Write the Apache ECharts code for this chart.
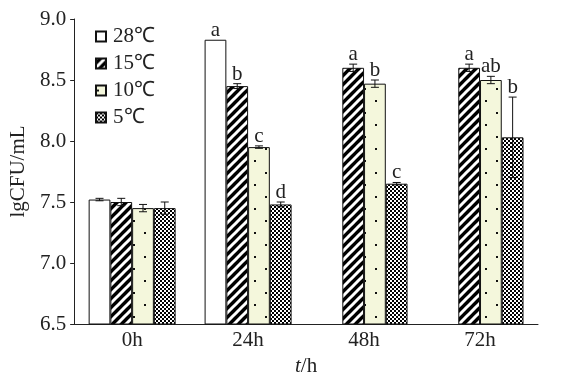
<!DOCTYPE html>
<html>
<head>
<meta charset="utf-8">
<script src="https://cdn.jsdelivr.net/npm/echarts@6/dist/echarts.min.js"></script>
<style>html,body{margin:0;padding:0;background:#fff}#c{width:568px;height:384px}</style>
</head>
<body>
<div id="c"></div>
<script>
var categories = ['0h', '24h', '48h', '72h'];
var seriesNames = ['28\u2103', '15\u2103', '10\u2103', '5\u2103'];
var v28 = [7.52, 8.83, null, null];
var v15 = [7.50, 8.45, 8.60, 8.60];
var v10 = [7.45, 7.95, 8.47, 8.50];
var v5  = [7.45, 7.48, 7.65, 8.03];
var e28 = [0.01, 0.0, null, null];
var e15 = [0.03, 0.02, 0.03, 0.03];
var e10 = [0.03, 0.01, 0.03, 0.03];
var e5  = [0.05, 0.02, 0.01, 0.33];
var l28 = ['', 'a', '', ''];
var l15 = ['', 'b', 'a', 'a'];
var l10 = ['', 'c', 'b', 'ab'];
var l5  = ['', 'd', 'c', 'b'];
var yTicks = [6.5, 7.0, 7.5, 8.0, 8.5, 9.0];

function makeCanvas(w, h, draw) {
  var c = document.createElement('canvas');
  c.width = w; c.height = h;
  draw(c.getContext('2d'));
  return c;
}
var stripe = makeCanvas(9, 9, function (g) {
  g.fillStyle = '#000'; g.fillRect(0, 0, 9, 9);
  g.strokeStyle = '#fff'; g.lineWidth = 3;
  for (var k = -1; k <= 1; k++) {
    g.beginPath(); g.moveTo(-2 + k * 9, 11); g.lineTo(11 + k * 9, -2); g.stroke();
  }
});
var dots = makeCanvas(22, 24, function (g) {
  g.fillStyle = '#f4f7dc'; g.fillRect(0, 0, 22, 24);
  g.fillStyle = '#111';
  g.fillRect(1, 4, 2, 2);
  g.fillRect(12, 16, 2, 2);
});
var checker = makeCanvas(4, 4, function (g) {
  g.fillStyle = '#fff'; g.fillRect(0, 0, 4, 4);
  g.fillStyle = '#000'; g.fillRect(0, 0, 2, 2); g.fillRect(2, 2, 2, 2);
});

var fills = ['#ffffff', {image: stripe, repeat: 'repeat'}, {image: dots, repeat: 'repeat'}, {image: checker, repeat: 'repeat'}];
var values = [v28, v15, v10, v5];
var errs = [e28, e15, e10, e5];
var letters = [l28, l15, l10, l5];
var FONT = '"Liberation Serif","Times New Roman",serif';
var FS = 21;
var GAP = 0.25;

var series = [];
values.forEach(function (vals, i) {
  series.push({
    name: seriesNames[i], type: 'bar', data: vals,
    barGap: '0%', barCategoryGap: (GAP * 100) + '%',
    itemStyle: {color: fills[i], borderColor: '#111', borderWidth: 1},
    emphasis: {disabled: true}, animation: false
  });
});
values.forEach(function (vals, i) {
  var data = [];
  vals.forEach(function (v, j) { if (v != null) data.push([j, v, errs[i][j], letters[i][j]]); });
  series.push({
    type: 'custom', silent: true, animation: false, z: 5,
    encode: {x: 0, y: 1},
    data: data,
    renderItem: function (params, api) {
      var j = api.value(0), v = api.value(1), e = api.value(2);
      var lt = data[params.dataIndex][3];
      var band = api.size([1, 0])[0];
      var bw = band * (1 - GAP) / 4;
      var base = api.coord([j, v]);
      var x = base[0] + (i - 1.5) * bw;
      var yTop = api.coord([j, v + e])[1];
      var yBot = api.coord([j, v - e])[1];
      var cap = 4;
      var ch = [];
      if (e > 0) {
        ch.push({type: 'line', shape: {x1: x, y1: yTop, x2: x, y2: yBot}, style: {stroke: '#111', lineWidth: 1}});
        ch.push({type: 'line', shape: {x1: x - cap, y1: yTop, x2: x + cap, y2: yTop}, style: {stroke: '#111', lineWidth: 1}});
        ch.push({type: 'line', shape: {x1: x - cap, y1: yBot, x2: x + cap, y2: yBot}, style: {stroke: '#111', lineWidth: 1}});
      }
      if (lt) {
        ch.push({type: 'text', style: {text: lt, x: x, y: yTop + 1, align: 'center', verticalAlign: 'bottom', font: FS + 'px ' + FONT, fill: '#222'}});
      }
      return {type: 'group', children: ch};
    }
  });
});

var chart = echarts.init(document.getElementById('c'), null, {renderer: 'canvas'});
chart.setOption({
  backgroundColor: '#fff',
  animation: false,
  textStyle: {fontFamily: FONT, color: '#222'},
  grid: {left: 72, right: 30, top: 19, bottom: 60},
  legend: {
    orient: 'vertical', left: 95, top: 26, padding: 0,
    itemWidth: 10, itemHeight: 10, itemGap: 6,
    icon: 'rect',
    data: seriesNames,
    textStyle: {fontFamily: FONT, fontSize: FS, color: '#222', padding: [0, 0, 0, 2]}
  },
  xAxis: {
    type: 'category', data: categories,
    name: '{i|t}/h', nameLocation: 'middle', nameGap: 24,
    nameTextStyle: {fontFamily: FONT, fontSize: FS, color: '#222', rich: {i: {fontStyle: 'italic', fontFamily: FONT, fontSize: FS, color: '#222'}}},
    axisLine: {lineStyle: {color: '#222', width: 1}},
    axisTick: {inside: true, length: 5, lineStyle: {color: '#222'}},
    axisLabel: {fontFamily: FONT, fontSize: FS, color: '#222', margin: 6},
    splitLine: {show: false}
  },
  yAxis: {
    type: 'value', min: 6.5, max: 9.0, interval: 0.5,
    name: 'lgCFU/mL', nameLocation: 'middle', nameGap: 40, nameRotate: 90,
    nameTextStyle: {fontFamily: FONT, fontSize: FS, color: '#222'},
    axisLine: {show: true, lineStyle: {color: '#222', width: 1}},
    axisTick: {show: true, length: 4, lineStyle: {color: '#222'}},
    axisLabel: {fontFamily: FONT, fontSize: FS, color: '#222', margin: 8,
      formatter: function (v) { return yTicks.indexOf(v) >= 0 ? v.toFixed(1) : ''; }},
    splitLine: {show: false}
  },
  series: series
});
</script>
</body>
</html>
